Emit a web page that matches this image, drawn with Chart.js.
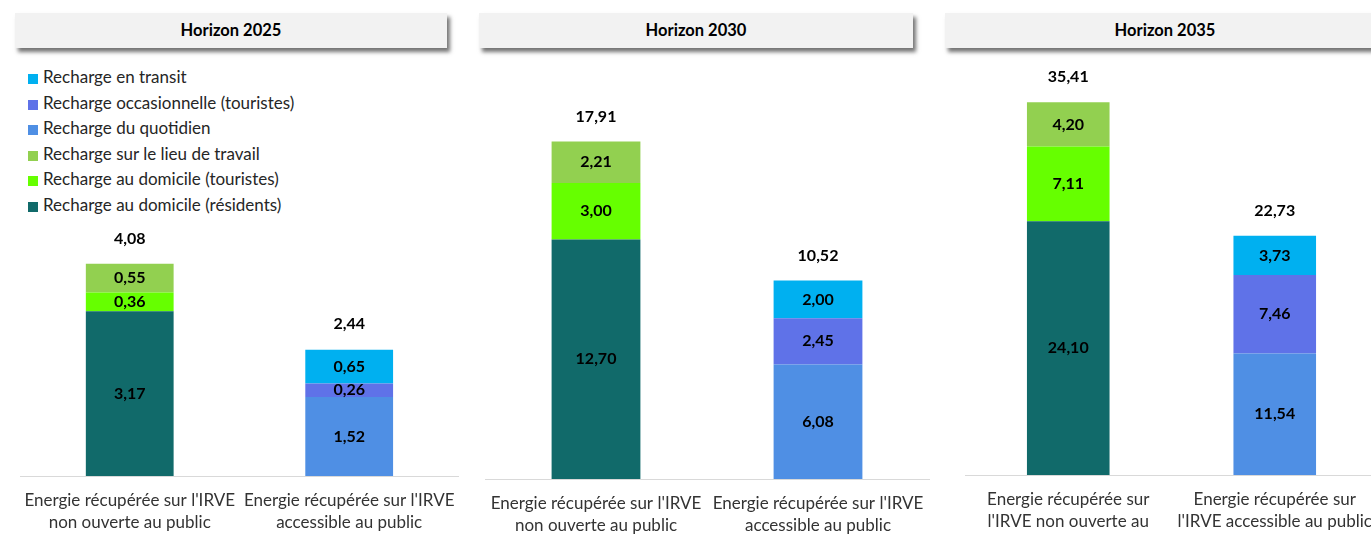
<!DOCTYPE html>
<html>
<head>
<meta charset="utf-8">
<script src="https://cdn.jsdelivr.net/npm/chart.js@4"></script>
<style>
  html, body { margin: 0; padding: 0; background: #fff; overflow: hidden; }
  body { width: 1371px; height: 548px; position: relative; font-family: Lato, "Open Sans", sans-serif; }
  .panel { position: absolute; top: 0; height: 548px; }
  .header {
    position: absolute; top: 13px; height: 35px; line-height: 35px;
    background: #f2f2f2; text-align: center; font-weight: bold; font-size: 16.5px; color: #000;
    box-shadow: 3px 4px 4px rgba(0, 0, 0, 0.55);
  }
  #legend { position: absolute; left: 28px; top: 64px; font-size: 17px; color: #262626; }
  #legend div { height: 25.6px; line-height: 25.6px; white-space: nowrap; }
  #legend span { display: inline-block; width: 10px; height: 10px; margin-right: 5px; vertical-align: -1px; }
</style>
</head>
<body>
<div class="header" style="left:15px;width:432px" id="h0"></div>
<div class="header" style="left:479px;width:434px" id="h1"></div>
<div class="header" style="left:945px;width:440px" id="h2"></div>
<div id="legend"></div>
<div class="panel" style="left:0;width:470px"><canvas id="c0"></canvas></div>
<div class="panel" style="left:470px;width:470px"><canvas id="c1"></canvas></div>
<div class="panel" style="left:955px;width:440px"><canvas id="c2"></canvas></div>

<script>
const horizons = ['Horizon 2025', 'Horizon 2030', 'Horizon 2035'];

const categories = [
    ["Energie récupérée sur l'IRVE", "non ouverte au public"],
    ["Energie récupérée sur l'IRVE", "accessible au public"]
];
// last panel wraps its labels narrower
const categoriesNarrow = [
    ["Energie récupérée sur", "l'IRVE non ouverte au"],
    ["Energie récupérée sur", "l'IRVE accessible au public"]
];

// values per horizon (2025, 2030, 2035)
const domicileResidents = [3.17, 12.70, 24.10];
const domicileTouristes = [0.36, 3.00, 7.11];
const lieuTravail = [0.55, 2.21, 4.20];
const quotidien = [1.52, 6.08, 11.54];
const occasionnelle = [0.26, 2.45, 7.46];
const transit = [0.65, 2.00, 3.73];

const totalsNonPublic = [4.08, 17.91, 35.41];
const totalsPublic = [2.44, 10.52, 22.73];

const seriesNames = [
    'Recharge au domicile (résidents)',
    'Recharge au domicile (touristes)',
    'Recharge sur le lieu de travail',
    'Recharge du quotidien',
    'Recharge occasionnelle (touristes)',
    'Recharge en transit'
];
const seriesColors = ['#116a6a', '#66ff00', '#92d050', '#4f8fe4', '#5f72e8', '#00b0f0'];

// layout of each panel (padding around the plot area, y-axis max)
const panels = [
    { left: 20, right: 10, top: 60, bottom: 12, yMax: 8 },
    { left: 15, right: 11, top: 102, bottom: 9, yMax: 20 },
    { left: 10, right: 17, top: 54, bottom: 13, yMax: 40 }
];

const fmt = v => v.toFixed(2).replace('.', ',');

const valueLabels = {
    id: 'valueLabels',
    afterDatasetsDraw(chart, args, opts) {
        const ctx = chart.ctx;
        const y = chart.scales.y;
        ctx.save();
        ctx.font = 'bold 16px Lato';
        ctx.fillStyle = '#000';
        ctx.textAlign = 'center';
        ctx.textBaseline = 'middle';
        chart.data.datasets.forEach((ds, i) => {
            chart.getDatasetMeta(i).data.forEach((bar, j) => {
                if (ds.data[j] == null) return;
                ctx.fillText(fmt(ds.data[j]), bar.x, (bar.y + bar.base) / 2);
            });
        });
        opts.totals.forEach((t, j) => {
            const x = chart.scales.x.getPixelForValue(j);
            ctx.fillText(fmt(t), x, y.getPixelForValue(t) - 25);
        });
        ctx.restore();
    }
};

// legend (top of stack first)
const legend = document.getElementById('legend');
for (let i = seriesNames.length - 1; i >= 0; i--) {
    const row = document.createElement('div');
    row.innerHTML = '<span style="background:' + seriesColors[i] + '"></span>' + seriesNames[i];
    legend.appendChild(row);
}

const seriesValues = [domicileResidents, domicileTouristes, lieuTravail, quotidien, occasionnelle, transit];

horizons.forEach((h, k) => {
    document.getElementById('h' + k).textContent = h;
    const p = panels[k];

    const datasets = seriesNames.map((name, i) => ({
        label: name,
        // first three series belong to the non-public bar, the rest to the public one
        data: i < 3 ? [seriesValues[i][k], null] : [null, seriesValues[i][k]],
        backgroundColor: seriesColors[i],
        borderWidth: 0,
        categoryPercentage: 1,
        barPercentage: 0.4
    }));

    new Chart(document.getElementById('c' + k), {
        type: 'bar',
        data: {
            labels: k === 2 ? categoriesNarrow : categories,
            datasets: datasets
        },
        options: {
            responsive: true,
            maintainAspectRatio: false,
            animation: false,
            layout: {
                padding: { left: p.left, right: p.right, top: p.top, bottom: p.bottom }
            },
            plugins: {
                legend: { display: false },
                tooltip: { enabled: false },
                valueLabels: { totals: [totalsNonPublic[k], totalsPublic[k]] }
            },
            scales: {
                x: {
                    stacked: true,
                    grid: { display: false, drawTicks: false },
                    border: { display: true, color: '#d9d9d9', width: 1 },
                    ticks: {
                        color: '#333',
                        padding: 13,
                        maxRotation: 0,
                        autoSkip: false,
                        font: { family: 'Lato', size: 17, lineHeight: 1.3 }
                    },
                    afterFit: scale => { scale.height = 60; }
                },
                y: {
                    stacked: true,
                    display: false,
                    min: 0,
                    max: p.yMax
                }
            }
        },
        plugins: [valueLabels]
    });
});
</script>
</body>
</html>
